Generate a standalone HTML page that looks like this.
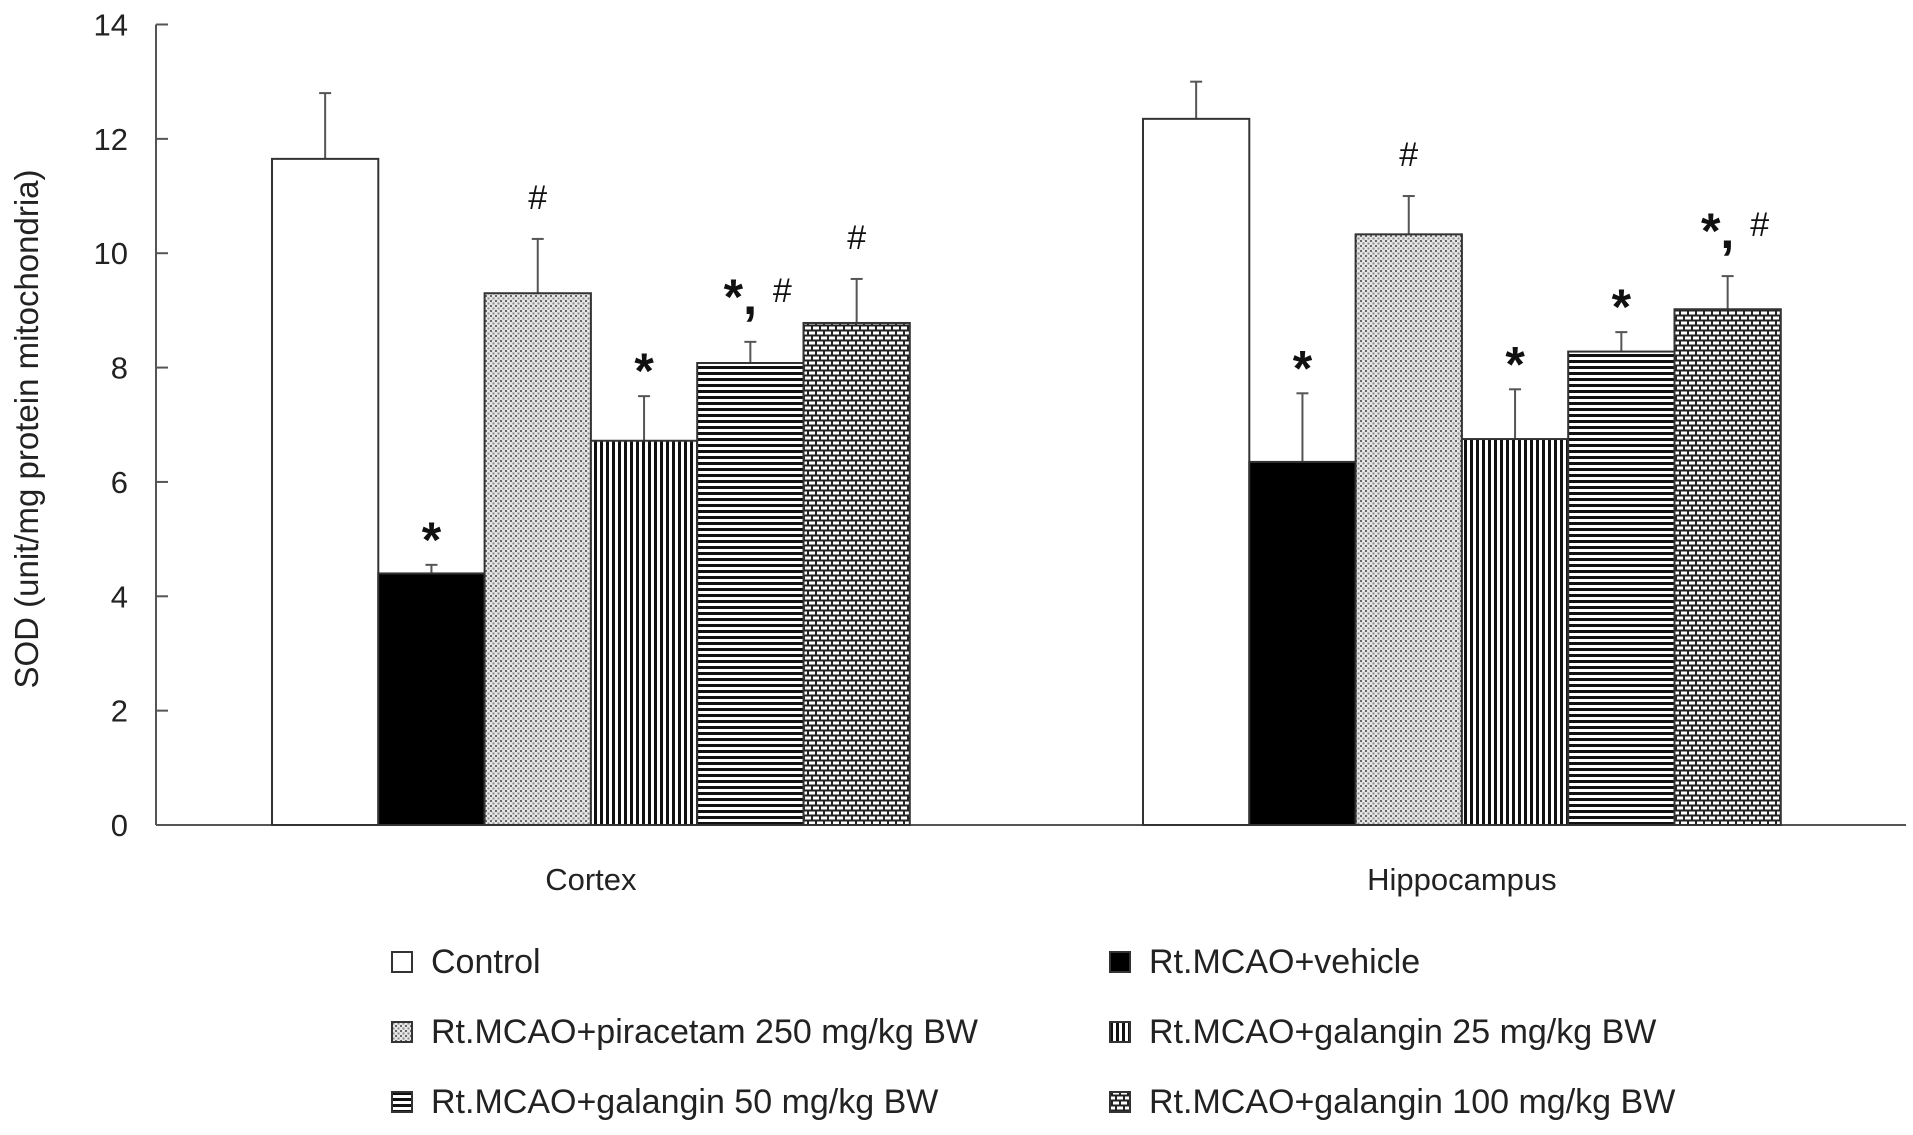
<!DOCTYPE html>
<html><head><meta charset="utf-8"><style>
body{margin:0;background:#fff;}
svg text{font-family:"Liberation Sans",Arial,sans-serif;}
</style></head><body>
<svg id="chart" width="1913" height="1130" viewBox="0 0 1913 1130" xmlns="http://www.w3.org/2000/svg">
<defs>
<pattern id="p0" width="8" height="8" patternUnits="userSpaceOnUse"><rect width="8" height="8" fill="#fff"/></pattern>
<pattern id="p1" width="8" height="8" patternUnits="userSpaceOnUse"><rect width="8" height="8" fill="#000"/></pattern>
<pattern id="p2" width="5" height="5" patternUnits="userSpaceOnUse"><rect width="5" height="5" fill="#e6e6e6"/><rect x="0" y="0" width="2" height="2" fill="#666"/><rect x="2.5" y="2.5" width="2" height="2" fill="#888"/></pattern>
<pattern id="p3" width="6" height="6" patternUnits="userSpaceOnUse"><rect width="6" height="6" fill="#fff"/><rect x="0" y="0" width="3" height="6" fill="#111"/></pattern>
<pattern id="p4" width="6" height="6" patternUnits="userSpaceOnUse"><rect width="6" height="6" fill="#fff"/><rect x="0" y="0" width="6" height="3" fill="#111"/></pattern>
<pattern id="p5" width="16" height="10" patternUnits="userSpaceOnUse"><rect width="16" height="10" fill="#222"/><rect x="1" y="1.5" width="6" height="3" fill="#fff"/><rect x="9" y="1.5" width="6" height="3" fill="#fff"/><rect x="5" y="6.5" width="6" height="3" fill="#fff"/><rect x="13" y="6.5" width="3" height="3" fill="#fff"/><rect x="0" y="6.5" width="3" height="3" fill="#fff"/></pattern>
</defs>
<g id="plot"></g>
</svg>
<script>
const groups = ["Cortex", "Hippocampus"];
const seriesNames = ["Control","Rt.MCAO+vehicle","Rt.MCAO+piracetam 250 mg/kg BW","Rt.MCAO+galangin 25 mg/kg BW","Rt.MCAO+galangin 50 mg/kg BW","Rt.MCAO+galangin 100 mg/kg BW"];
const cortexValues = [11.65, 4.4, 9.3, 6.72, 8.08, 8.78];
const cortexErrors = [1.15, 0.15, 0.95, 0.78, 0.37, 0.77];
const hippoValues = [12.35, 6.35, 10.33, 6.75, 8.28, 9.02];
const hippoErrors = [0.65, 1.2, 0.67, 0.87, 0.34, 0.58];
const cortexMarks = ["", "*", "#", "*", "*,#", "#"];
const hippoMarks = ["", "*", "#", "*", "*", "*,#"];
const yTicks = [0, 2, 4, 6, 8, 10, 12, 14];

const NS = "http://www.w3.org/2000/svg";
const g = document.getElementById("plot");
const y0 = 825, yTop = 24.5, yMax = 14;
const yScale = v => y0 - (v / yMax) * (y0 - yTop);
const groupStart = [272, 1143], barW = 106.3;
const xBar = (gi, si) => groupStart[gi] + si * barW;
function mk(tag, attrs, text) {
  const e = document.createElementNS(NS, tag);
  for (const k in attrs) e.setAttribute(k, attrs[k]);
  if (text !== undefined) e.textContent = text;
  g.appendChild(e); return e;
}
let ax = mk("line", {x1:156, y1:yScale(14), x2:156, y2:y0, stroke:"#555", "stroke-width":2});


let bx = mk("line", {x1:156, y1:y0, x2:1906, y2:y0, stroke:"#555", "stroke-width":2});


yTicks.forEach(t => {
  const y = yScale(t);
  const tl = mk("line", {x1:156, y1:y, x2:168, y2:y, stroke:"#555", "stroke-width":2});
  
  
  const tx = mk("text", {x:128, y:y+11, "text-anchor":"end", "font-size":31, fill:"#222"}, String(t));
  
  
});
const yt = mk("text", {x:0, y:0, transform:"translate(38,429) rotate(-90)", "text-anchor":"middle", "font-size":33, fill:"#222"}, "SOD (unit/mg protein mitochondria)");



const allVals = [cortexValues, hippoValues], allErr = [cortexErrors, hippoErrors], allMarks = [cortexMarks, hippoMarks];
groups.forEach((gname, gi) => {
  allVals[gi].forEach((v, si) => {
    const x = xBar(gi, si), y = yScale(v);
    const top = yScale(v + allErr[gi][si]);
    const cx = x + barW / 2;
    const el = mk("line", {x1:cx, y1:y, x2:cx, y2:top, stroke:"#555", "stroke-width":2});
    
    
    const ec = mk("line", {x1:cx-6, y1:top, x2:cx+6, y2:top, stroke:"#555", "stroke-width":2});
    
    
    const r = mk("rect", {x:x, y:y, width:barW, height:y0 - y, fill:"url(#p"+si+")", stroke:"#333", "stroke-width":2});
    
    
    const m = allMarks[gi][si];
    if (m) {
      let t;
      if (m === "*") t = mk("text", {x:cx, y:top-8, "text-anchor":"middle", "font-size":50, "font-weight":"bold", "font-family":"Liberation Serif, serif", fill:"#111"}, "*");
      else if (m === "#") t = mk("text", {x:cx, y:top-30, "text-anchor":"middle", "font-size":34, "font-family":"Liberation Serif, serif", fill:"#111"}, "#");
      else t = mk("text", {x:cx-10, y:top-28, "text-anchor":"middle", "font-size":50, "font-weight":"bold", "font-family":"Liberation Serif, serif", fill:"#111"}, "*,");
      
      
      if (m === "*,#") {
        const h = mk("text", {x:cx+32, y:top-40, "text-anchor":"middle", "font-size":34, "font-family":"Liberation Serif, serif", fill:"#111"}, "#");
        
        
      }
    }
  });
  const gl = mk("text", {x:groupStart[gi] + 3*barW, y:890, "text-anchor":"middle", "font-size":31, fill:"#222"}, gname);
  
  
});
seriesNames.forEach((n, i) => {
  const col = i % 2, row = Math.floor(i / 2);
  const bxp = col ? 1110 : 392, by = 952 + row * 70;
  const r = mk("rect", {x:bxp, y:by, width:20, height:20, fill:"url(#p"+i+")", stroke:"#333", "stroke-width":2});
  
  
  const t = mk("text", {x:bxp + 39, y:by + 21, "font-size":34, fill:"#222"}, n);
  
  
});
</script>
</body></html>
